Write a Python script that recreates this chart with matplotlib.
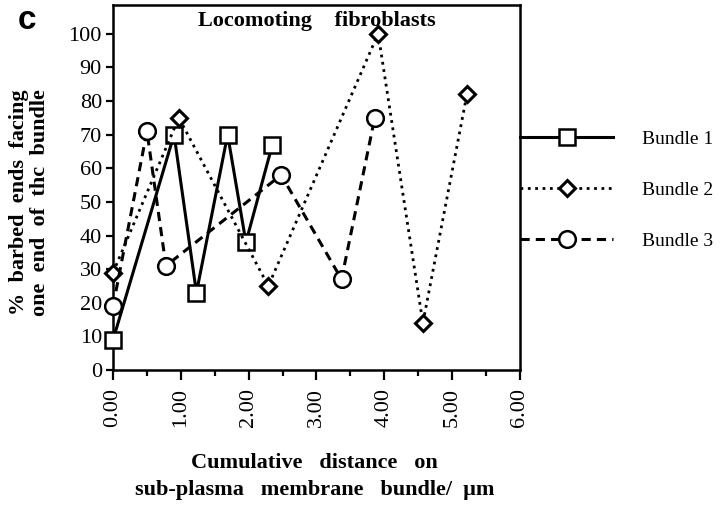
import numpy as np
import matplotlib
matplotlib.use("Agg")
import matplotlib.pyplot as plt
from matplotlib.ticker import MultipleLocator

plt.rcParams['font.family'] = ['Liberation Serif', 'DejaVu Serif']

# Bundle data (cumulative distance in um, % barbed ends facing one end)
b1_x = [0.00, 0.90, 1.23, 1.69, 1.96, 2.35]
b1_y = [9, 70, 23, 70, 38, 67]
b2_x = [0.00, 0.97, 2.29, 3.91, 4.57, 5.22]
b2_y = [29, 75, 25, 100, 14, 82]
b3_x = [0.00, 0.50, 0.78, 2.48, 3.37, 3.86]
b3_y = [19, 71, 31, 58, 27, 75]

xticks = [0, 1, 2, 3, 4, 5, 6]
xticklabels = ["0.00", "1.00", "2.00", "3.00", "4.00", "5.00", "6.00"]

fig = plt.figure(figsize=(7.2, 5.07), dpi=100)
ax = fig.add_axes([0.157, 0.270, 0.565, 0.720])

ax.plot(b1_x, b1_y, '-', color='black', lw=2.2, marker='s', ms=11,
        mfc='white', mec='black', mew=1.8, label='Bundle 1', clip_on=False, zorder=3)
ax.plot(b2_x, b2_y, ':', color='black', lw=2.0, marker='D', ms=8,
        mfc='white', mec='black', mew=2.2, label='Bundle 2', clip_on=False, zorder=3)
ax.plot(b3_x, b3_y, '--', color='black', lw=2.2, marker='o', ms=12,
        mfc='white', mec='black', mew=1.8, label='Bundle 3', clip_on=False, zorder=3,
        dashes=(3, 2))

ax.set_xlim(0, 6)
ax.set_ylim(0, 108.5)
ax.set_yticks(np.arange(0, 101, 10))
ax.set_xticks(xticks)
ax.set_xticklabels(xticklabels, rotation=90)
ax.xaxis.set_minor_locator(MultipleLocator(0.5))
ax.tick_params(axis='both', which='major', direction='out', width=1.6, labelsize=16)
ax.tick_params(axis='y', which='major', length=5, pad=3)
ax.tick_params(axis='x', which='major', length=7, pad=6)
ax.tick_params(axis='x', which='minor', direction='out', length=4, width=1.6)
for s in ax.spines.values():
    s.set_linewidth(1.8)

ax.text(0.5, 0.985, "Locomoting    fibroblasts", transform=ax.transAxes,
        ha='center', va='top', fontsize=16, fontweight='bold')

ax.set_ylabel("%  barbed  ends  facing\none  end  of  thc  bundle", fontsize=16,
              fontweight='bold', linespacing=1.05)
ax.yaxis.set_label_coords(-0.155, 0.46)
fig.text(0.437, 0.060, "Cumulative   distance   on\nsub-plasma   membrane   bundle/  \u03bcm",
         ha='center', va='center', fontsize=16, fontweight='bold', linespacing=1.5)

fig.text(0.025, 0.96, "c", fontsize=24, fontweight='bold',
         family=['Liberation Sans', 'DejaVu Sans'], ha='left', va='center')

ax.legend(loc='center left', bbox_to_anchor=(1.0, 0.493), frameon=False,
          fontsize=14, handlelength=4.8, handletextpad=1.5, labelspacing=1.7,
          borderaxespad=0, borderpad=0)

fig.savefig("out.png", dpi=100)
